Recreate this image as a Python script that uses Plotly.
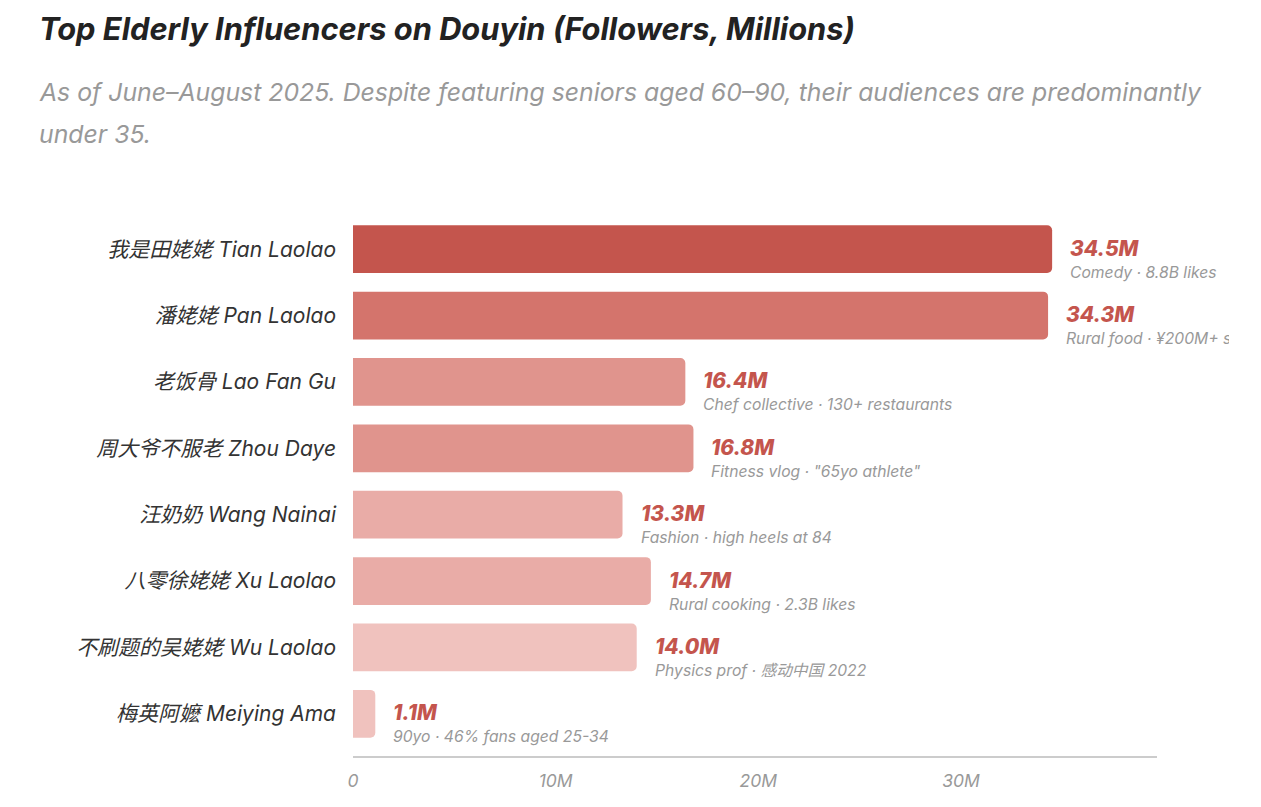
import plotly.graph_objects as go

names = ["我是田姥姥 Tian Laolao", "潘姥姥 Pan Laolao", "老饭骨 Lao Fan Gu",
         "周大爷不服老 Zhou Daye", "汪奶奶 Wang Nainai", "八零徐姥姥 Xu Laolao",
         "不刷题的吴姥姥 Wu Laolao", "梅英阿嬷 Meiying Ama"]
followers = [34.5, 34.3, 16.4, 16.8, 13.3, 14.7, 14.0, 1.1]
notes = ["Comedy · 8.8B likes", "Rural food · ¥200M+ sales", "Chef collective · 130+ restaurants",
         "Fitness vlog · \"65yo athlete\"", "Fashion · high heels at 84", "Rural cooking · 2.3B likes",
         "Physics prof · 感动中国 2022", "90yo · 46% fans aged 25-34"]
colors = ["#C4554D", "#D4746C", "#E0948D", "#E0948D", "#E9ACA7", "#E9ACA7", "#F0C2BE", "#F0C2BE"]
tick_vals = [0, 10, 20, 30]
tick_text = ["0", "10M", "20M", "30M"]

# page body has an 8px margin, so figure coords = screen coords - 8
OFF = 8
W, H = 1261, 807
L, R, T, B = 353 - OFF, 1261 - (1157 - OFF), 216 - OFF, 807 - (756 - OFF)
pw, ph = W - L - R, H - T - B
FONT = "Inter, 'Noto Sans CJK SC', sans-serif"
red = "#C4554D"

def px(x):
    return (x - OFF - L) / pw

def py(y):
    return 1 + (T - (y - OFF)) / ph

fig = go.Figure(go.Bar(
    x=followers, y=names, orientation="h",
    marker=dict(color=colors, line=dict(width=0)),
    width=0.72, hoverinfo="skip",
))

ann = []
for i, (n, v, note) in enumerate(zip(names, followers, notes)):
    ann.append(dict(x=v, y=n, xref="x", yref="y", text=f"<i>{v:.1f}M</i>",
                    showarrow=False, xanchor="left", yanchor="middle", xshift=16, yshift=1,
                    font=dict(family=FONT, size=21, color=red, weight=800)))
    a = dict(x=v, y=n, xref="x", yref="y", text=f"<i>{note}</i>",
             showarrow=False, xanchor="left", yanchor="middle", xshift=16, yshift=-23,
             align="left", font=dict(family=FONT, size=15.7, color="#999999"))
    if i == 1:
        a["width"] = 163
    ann.append(a)

ann.append(dict(x=px(37), y=py(29), xref="paper", yref="paper", showarrow=False,
                xanchor="left", yanchor="middle",
                text="<b><i>Top Elderly Influencers on Douyin (Followers, Millions)</i></b>",
                font=dict(family=FONT, size=30.8, color="#222222")))
ann.append(dict(x=px(37), y=py(92), xref="paper", yref="paper", showarrow=False,
                xanchor="left", yanchor="middle",
                text="<i>As of June–August 2025. Despite featuring seniors aged 60–90, their audiences are predominantly</i>",
                font=dict(family=FONT, size=24.8, color="#999999")))
ann.append(dict(x=px(37), y=py(134), xref="paper", yref="paper", showarrow=False,
                xanchor="left", yanchor="middle", text="<i>under 35.</i>",
                font=dict(family=FONT, size=24.8, color="#999999")))

fig.update_layout(
    width=W, height=H, margin=dict(l=L, r=R, t=T, b=B, pad=0),
    paper_bgcolor="white", plot_bgcolor="white",
    barcornerradius=5, showlegend=False, annotations=ann,
    font=dict(family=FONT),
)
fig.update_xaxes(range=[0, 34.5 * 1.15], tickvals=tick_vals, ticktext=tick_text,
                 showgrid=False, zeroline=False, showline=True, linecolor="#CCCCCC", linewidth=1.5,
                 ticks="", ticklabelstandoff=8,
                 tickfont=dict(family=FONT, size=17.5, color="#999999", style="italic"))
fig.update_yaxes(categoryorder="array", categoryarray=names, range=[7.636, -0.5],
                 showgrid=False, zeroline=False, showline=False, ticks="", ticklabelstandoff=16,
                 tickfont=dict(family=FONT, size=21, color="#333333", style="italic"))

fig.write_html("out.html")
